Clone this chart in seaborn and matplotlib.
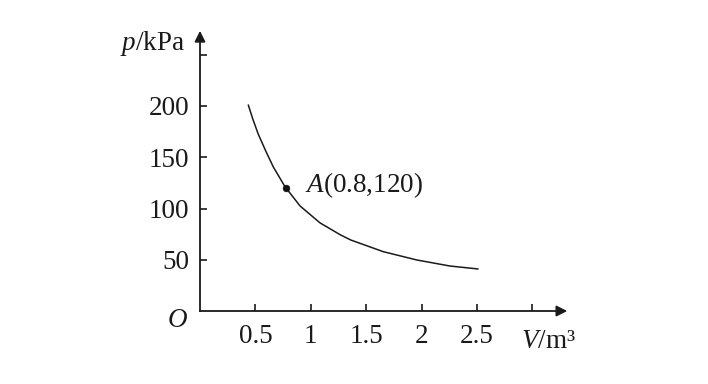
import matplotlib
matplotlib.use('Agg')
import matplotlib.pyplot as plt
import seaborn as sns
import pandas as pd

# 读图得到的曲线点 (V, p)
volume = [0.436, 0.476, 0.526, 0.596, 0.662, 0.767, 0.903, 1.083, 1.264, 1.36, 1.654, 1.956, 2.256, 2.51]
pressure = [201, 187.5, 172.5, 155.5, 140.5, 121.3, 102.5, 86, 74.5, 69.3, 57.9, 49.8, 43.9, 41]

# 点A
point_v = [0.78]
point_p = [120]
point_label = '$A$(0.8,120)'

x_ticks = [0.5, 1, 1.5, 2, 2.5, 3]
x_tick_labels = ['0.5', '1', '1.5', '2', '2.5', '']
y_ticks = [50, 100, 150, 200, 250]
y_tick_labels = ['50', '100', '150', '200', '']

sns.set_style('white')
plt.rcParams['font.family'] = ['Liberation Serif', 'DejaVu Serif']
plt.rcParams['mathtext.fontset'] = 'custom'
plt.rcParams['mathtext.it'] = 'Liberation Serif:italic'
plt.rcParams['mathtext.rm'] = 'Liberation Serif'

fig = plt.figure(figsize=(7.08, 3.84), dpi=100)
ax = fig.add_axes([0, 0, 1, 1])
ax.set_xlim(-1.805, 4.585)
ax.set_ylim(-71.2, 303.4)

df = pd.DataFrame({'V': volume, 'p': pressure})
sns.lineplot(data=df, x='V', y='p', ax=ax, color='#1a1a1a', linewidth=1.1, sort=False)
sns.scatterplot(x=point_v, y=point_p, ax=ax, color='#111111', s=24, edgecolor='#111111', zorder=5)
ax.text(0.948, 123, point_label, fontsize=19.5, va='center', ha='left', color='#1a1a1a')

# 坐标轴
for side in ['top', 'right']:
    ax.spines[side].set_visible(False)
ax.spines['left'].set_position(('data', 0))
ax.spines['bottom'].set_position(('data', 0))
ax.spines['left'].set_bounds(0, 268)
ax.spines['bottom'].set_bounds(0, 3.25)
for side in ['left', 'bottom']:
    ax.spines[side].set_linewidth(1.3)
    ax.spines[side].set_color('#1a1a1a')

ax.annotate('', xy=(3.34, 0), xytext=(3.2, 0),
            arrowprops=dict(arrowstyle='-|>', color='#1a1a1a', lw=1.3, mutation_scale=16))
ax.annotate('', xy=(0, 276), xytext=(0, 262),
            arrowprops=dict(arrowstyle='-|>', color='#1a1a1a', lw=1.3, mutation_scale=16))

ax.set_xticks(x_ticks)
ax.set_xticklabels(x_tick_labels)
ax.set_yticks(y_ticks)
ax.set_yticklabels(y_tick_labels)
ax.tick_params(axis='both', direction='in', length=5, width=1.2, color='#1a1a1a',
               labelsize=19.5, labelcolor='#1a1a1a', bottom=True, left=True)
ax.tick_params(axis='x', pad=9)
ax.tick_params(axis='y', pad=8)
ax.set_xlabel('')
ax.set_ylabel('')
ax.grid(False)

ax.text(-0.135, 261, '$p$/kPa', fontsize=19.5, ha='right', va='center', color='#1a1a1a')
ax.text(2.90, -30, '$V$/m³', fontsize=19.5, ha='left', va='center', color='#1a1a1a')
ax.text(-0.2, -9.5, '$O$', fontsize=19.5, ha='center', va='center', color='#1a1a1a')

fig.savefig('out.png', dpi=100)
